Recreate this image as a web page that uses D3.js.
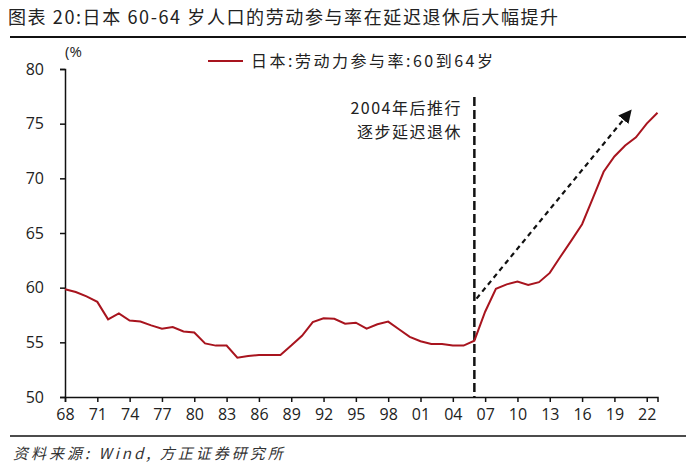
<!DOCTYPE html>
<html><head><meta charset="utf-8">
<script src="https://cdn.jsdelivr.net/npm/d3@7"></script>
<style>body{margin:0;background:#fff}svg{display:block}</style>
</head><body><svg id="c" width="700" height="470"></svg>
<script>
const years = d3.range(1968, 2024);
const values = [59.85,59.6,59.2,58.7,57.1,57.65,57.0,56.9,56.55,56.25,
  56.4,56.0,55.9,54.9,54.7,54.7,53.6,53.75,53.85,53.85,
  53.85,54.7,55.6,56.85,57.2,57.15,56.7,56.8,56.25,56.65,
  56.9,56.2,55.5,55.1,54.85,54.85,54.7,54.7,55.15,57.8,
  59.9,60.3,60.55,60.25,60.5,61.35,62.85,64.3,65.8,68.2,
  70.6,72.0,73.0,73.75,75.0,76.0];
const xTickYears = d3.range(1968, 2024, 3);
const yTicks = [50,55,60,65,70,75,80];
const title = "图表 20:日本 60-64 岁人口的劳动参与率在延迟退休后大幅提升";
const legendLabel = "日本:劳动力参与率:60到64岁";
const noteLines = ["2004年后推行","逐步延迟退休"];
const markerYear = 2006;
const arrowFrom = [2006.2, 59.0];
const arrowTo = [2020.45, 76.1];
const source = "资料来源:  Wind,  方正证券研究所";

const svg = d3.select("#c");
const font = "'Noto Sans CJK SC', sans-serif";
const x = d3.scaleLinear().domain([1968, 2023]).range([65, 657.5]);
const y = d3.scaleLinear().domain([50, 80]).range([397, 69]);
const red = "#a8141e";

svg.append("text").attr("x", 8).attr("y", 24).attr("font-family", font)
  .attr("font-size", 18).attr("letter-spacing", 1.6).attr("fill", "#222").text(title);
svg.append("line").attr("x1", 10).attr("x2", 686).attr("y1", 37).attr("y2", 37)
  .attr("stroke", "#111").attr("stroke-width", 2);
svg.append("line").attr("x1", 10).attr("x2", 686).attr("y1", 436).attr("y2", 436)
  .attr("stroke", "#111").attr("stroke-width", 1.5);
svg.append("text").attr("x", 13).attr("y", 459).attr("font-family", font)
  .attr("font-size", 15).attr("letter-spacing", 3).attr("font-style", "italic")
  .attr("fill", "#333").text(source);

// axes
const yAxis = svg.append("g").attr("transform", "translate(65,0)")
  .call(d3.axisLeft(y).tickValues(yTicks).tickSize(5).tickPadding(16));
const xAxis = svg.append("g").attr("transform", "translate(0,397)")
  .call(d3.axisBottom(x).tickValues(xTickYears).tickSize(5).tickPadding(7)
    .tickFormat(d => String(d % 100).padStart(2, "0")));
[yAxis, xAxis].forEach(g => {
  g.select(".domain").attr("stroke", "#111").attr("stroke-width", 1.5);
  g.selectAll(".tick line").attr("stroke", "#111").attr("stroke-width", 1.5);
  g.selectAll("text").attr("font-family", "'Open Sans', sans-serif").attr("font-size", 16).attr("fill", "#222");
});
svg.append("text").attr("x", 65).attr("y", 57).attr("font-family", "'Open Sans', sans-serif")
  .attr("font-size", 15).attr("fill", "#222").text("(%");

// vertical dashed marker
svg.append("line").attr("x1", x(markerYear)).attr("x2", x(markerYear))
  .attr("y1", 97).attr("y2", 397).attr("stroke", "#111").attr("stroke-width", 2.5)
  .attr("stroke-dasharray", "9,4");

// line
svg.append("path").datum(years.map((yr, i) => [yr, values[i]]))
  .attr("fill", "none").attr("stroke", red).attr("stroke-width", 2)
  .attr("d", d3.line().x(d => x(d[0])).y(d => y(d[1])));

// arrow
const defs = svg.append("defs");
defs.append("marker").attr("id", "ah").attr("viewBox", "0 0 10 10").attr("refX", 8).attr("refY", 5)
  .attr("markerWidth", 6).attr("markerHeight", 6).attr("markerUnits", "strokeWidth").attr("orient", "auto")
  .append("path").attr("d", "M0,0 L10,5 L0,10 z").attr("fill", "#111");
svg.append("line").attr("x1", x(arrowFrom[0])).attr("y1", y(arrowFrom[1]))
  .attr("x2", x(arrowTo[0])).attr("y2", y(arrowTo[1]))
  .attr("stroke", "#111").attr("stroke-width", 2.2).attr("stroke-dasharray", "5,4")
  .attr("marker-end", "url(#ah)");

// note
noteLines.forEach((t, i) => {
  svg.append("text").attr("x", 462).attr("y", 114 + i * 24).attr("text-anchor", "end")
    .attr("font-family", font).attr("font-size", 16).attr("letter-spacing", 1.5)
    .attr("fill", "#222").text(t);
});

// legend
svg.append("line").attr("x1", 208).attr("x2", 243).attr("y1", 61).attr("y2", 61)
  .attr("stroke", red).attr("stroke-width", 2);
svg.append("text").attr("x", 251).attr("y", 67).attr("font-family", font)
  .attr("font-size", 16).attr("letter-spacing", 2.5).attr("fill", "#222").text(legendLabel);
</script></body></html>
